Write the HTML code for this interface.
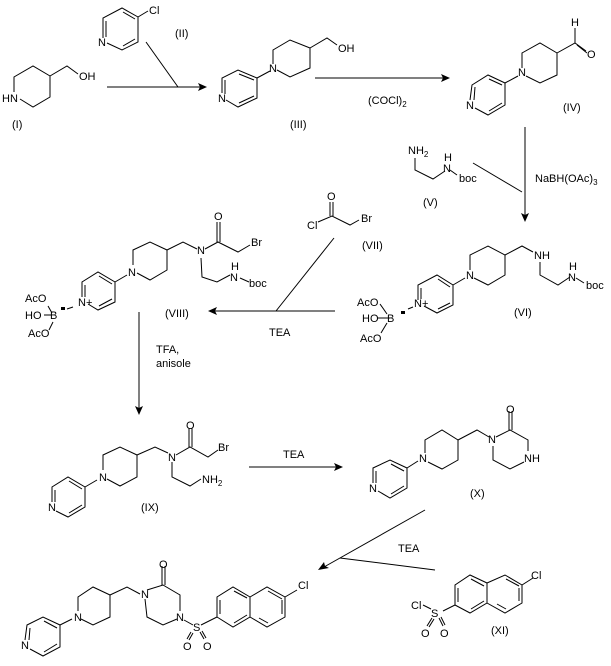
<!DOCTYPE html>
<html><head><meta charset="utf-8"><style>
html,body{margin:0;padding:0;background:#fff;}
svg{display:block;}
text{font-family:"Liberation Sans",sans-serif;font-size:11px;fill:#000;}
.s{font-size:8px;}
</style></head><body>
<svg width="611" height="666" viewBox="0 0 611 666" xmlns="http://www.w3.org/2000/svg">
<g stroke="#000" stroke-width="1" fill="none">
<!-- I -->
<polyline points="14,92 14,77 33,66 50,76 50,97 33,107 20,99"/>
<polyline points="50,76 67,66 78,74"/>
<!-- II -->
<polyline points="103,38 103,18 122,8 138,17 138,42 122,50 107,43"/>
<line x1="106" y1="21" x2="106" y2="37"/><line x1="123" y1="12" x2="135" y2="19"/><line x1="123" y1="46" x2="135" y2="39"/>
<line x1="138" y1="17" x2="148" y2="11"/>
<!-- arrow I->III -->
<line x1="107" y1="87" x2="202" y2="87"/><line x1="146" y1="42" x2="178" y2="87"/>
<!-- III -->
<polyline points="222,93 222,78 238,70 257,78 257,98 238,107 226,100"/>
<line x1="225" y1="80" x2="225" y2="94"/><line x1="239" y1="74" x2="254" y2="80"/><line x1="239" y1="103" x2="254" y2="96"/>
<line x1="257" y1="78" x2="270" y2="71"/>
<polyline points="273,64 273,50 290,40 310,48 310,68 290,77 277,70"/>
<polyline points="310,48 327,38 337,45"/>
<!-- arrow III->IV -->
<line x1="315" y1="78" x2="445" y2="78"/>
<!-- IV -->
<polyline points="470,100 472,85 488,75 505,83 505,105 488,115 475,108"/>
<line x1="475" y1="87" x2="474" y2="100"/><line x1="489" y1="79" x2="502" y2="85"/><line x1="489" y1="111" x2="502" y2="103"/>
<line x1="505" y1="83" x2="518" y2="76"/>
<polyline points="522,68 522,53 540,43 557,53 557,75 540,83 526,76"/>
<polyline points="557,53 575,43 586,51"/><line x1="577" y1="45" x2="587" y2="53"/>
<line x1="575" y1="43" x2="575" y2="28"/>
<!-- arrow IV->VI -->
<line x1="525" y1="127" x2="525" y2="217"/><line x1="473" y1="163" x2="522" y2="192"/>
<!-- V -->
<polyline points="415,158 415,170 433,179 445,171"/>
<line x1="450" y1="170" x2="457" y2="175"/>
<!-- VI -->
<polyline points="418,300 418,285 437,275 453,285 453,305 437,313 424,306"/>
<line x1="421" y1="288" x2="421" y2="299"/><line x1="438" y1="279" x2="450" y2="287"/><line x1="438" y1="309" x2="450" y2="303"/>
<line x1="453" y1="285" x2="465" y2="278"/>
<polyline points="470,270 470,255 488,246 505,255 505,275 488,285 474,278"/>
<polyline points="505,255 522,246 533,252"/>
<polyline points="540,262 540,275 558,285 570,277"/>
<line x1="576" y1="278" x2="584" y2="283"/>
<line x1="380" y1="304" x2="387" y2="314"/><line x1="377" y1="318" x2="390" y2="318"/><line x1="387" y1="323" x2="381" y2="333"/>
<line x1="408" y1="309" x2="413" y2="307"/>
<!-- VII -->
<polyline points="318,222 332,216 350,225 359,220"/>
<line x1="330" y1="216" x2="330" y2="202"/><line x1="333" y1="216" x2="333" y2="202"/>
<!-- arrow VI->VIII -->
<line x1="335" y1="311" x2="214" y2="311"/><line x1="334" y1="238" x2="276" y2="311"/>
<!-- VIII -->
<polyline points="82,297 82,282 98,272 115,282 115,302 98,310 88,304"/>
<line x1="85" y1="285" x2="85" y2="297"/><line x1="99" y1="276" x2="112" y2="284"/><line x1="99" y1="306" x2="112" y2="299"/>
<line x1="115" y1="282" x2="127" y2="275"/>
<polyline points="133,265 133,250 150,242 167,250 167,270 150,280 137,273"/>
<polyline points="167,250 183,242 197,249"/>
<polyline points="205,249 218,242 238,252 250,245"/>
<line x1="217" y1="242" x2="217" y2="222"/><line x1="220" y1="242" x2="220" y2="222"/>
<polyline points="201,258 202,277 217,282 230,275"/>
<line x1="240" y1="278" x2="249" y2="282"/>
<line x1="48" y1="306" x2="52" y2="313"/><line x1="44" y1="315" x2="52" y2="315"/><line x1="53" y1="322" x2="49" y2="330"/>
<line x1="67" y1="309" x2="73" y2="307"/>
<!-- arrow VIII->IX -->
<line x1="139" y1="312" x2="139" y2="408"/>
<!-- IX -->
<polyline points="52,502 52,487 68,477 85,487 85,507 68,517 56,511"/>
<line x1="55" y1="490" x2="55" y2="502"/><line x1="69" y1="481" x2="82" y2="489"/><line x1="69" y1="513" x2="82" y2="505"/>
<line x1="85" y1="487" x2="97" y2="480"/>
<polyline points="103,470 103,455 120,447 137,455 137,477 120,486 107,479"/>
<polyline points="137,455 155,447 168,453"/>
<polyline points="176,455 190,447 208,457 218,450"/>
<line x1="189" y1="447" x2="189" y2="428"/><line x1="192" y1="447" x2="192" y2="428"/>
<polyline points="172,462 172,477 190,486 201,479"/>
<!-- arrow IX->X -->
<line x1="249" y1="467" x2="338" y2="467"/>
<!-- X -->
<polyline points="373,483 373,468 390,460 407,468 407,488 390,498 378,491"/>
<line x1="376" y1="471" x2="376" y2="483"/><line x1="391" y1="464" x2="404" y2="471"/><line x1="391" y1="494" x2="404" y2="486"/>
<line x1="407" y1="468" x2="418" y2="461"/>
<polyline points="425,453 425,440 442,430 458,440 458,460 442,469 428,462"/>
<polyline points="458,440 477,430 489,437"/>
<polyline points="496,437 510,430 528,440 528,451"/>
<line x1="509" y1="430" x2="509" y2="411"/><line x1="512" y1="430" x2="512" y2="411"/>
<polyline points="524,462 510,469 493,460 493,446"/>
<!-- arrow XI->final -->
<line x1="425" y1="510" x2="324" y2="567"/><line x1="340" y1="558" x2="435" y2="570"/>
<!-- XI -->
<polyline points="455,605 455,585 470,575 487,583 487,603 470,613 455,605"/>
<polyline points="487,583 505,575 522,585 522,603 505,613 487,603"/>
<line x1="458" y1="588" x2="458" y2="602"/><line x1="471" y1="579" x2="484" y2="586"/><line x1="471" y1="609" x2="484" y2="601"/>
<line x1="506" y1="579" x2="519" y2="586"/><line x1="519" y1="588" x2="519" y2="601"/><line x1="506" y1="609" x2="497" y2="604"/>
<line x1="522" y1="585" x2="533" y2="578"/>
<line x1="455" y1="605" x2="443" y2="611"/><line x1="423" y1="605" x2="431" y2="609"/>
<line x1="432" y1="618" x2="427" y2="626"/><line x1="434" y1="619" x2="429" y2="627"/>
<line x1="439" y1="618" x2="443" y2="626"/><line x1="441" y1="617" x2="445" y2="625"/>
<!-- final -->
<polyline points="25,640 27,625 43,617 60,625 60,647 43,656 30,649"/>
<line x1="30" y1="628" x2="29" y2="640"/><line x1="44" y1="621" x2="57" y2="628"/><line x1="44" y1="652" x2="57" y2="644"/>
<line x1="60" y1="625" x2="72" y2="619"/>
<polyline points="78,611 78,597 93,587 110,595 110,617 93,625 81,619"/>
<polyline points="110,595 127,587 140,594"/>
<polyline points="147,590 163,585 180,595 180,611"/>
<line x1="162" y1="585" x2="162" y2="566"/><line x1="165" y1="585" x2="165" y2="566"/>
<polyline points="177,619 163,625 147,617 145,599"/>
<line x1="184" y1="620" x2="193" y2="625"/><line x1="201" y1="625" x2="217" y2="617"/>
<line x1="191" y1="632" x2="187" y2="639"/><line x1="193" y1="633" x2="189" y2="640"/>
<line x1="200" y1="632" x2="204" y2="639"/><line x1="202" y1="631" x2="206" y2="638"/>
<polyline points="217,617 217,597 233,587 250,597 250,617 233,627 217,617"/>
<polyline points="250,597 267,587 285,597 285,617 267,627 250,617"/>
<line x1="220" y1="600" x2="220" y2="614"/><line x1="234" y1="591" x2="247" y2="598"/><line x1="234" y1="623" x2="247" y2="615"/>
<line x1="268" y1="591" x2="282" y2="599"/><line x1="282" y1="600" x2="282" y2="614"/><line x1="268" y1="623" x2="259" y2="618"/>
<line x1="285" y1="597" x2="297" y2="590"/>
</g>
<!-- arrowheads -->
<g fill="#000">
<polygon points="207,87 198,83 200,87 198,91"/>
<polygon points="450,78 441,74 443,78 441,82"/>
<polygon points="525,222 521,213 525,215 529,213"/>
<polygon points="208,311 217,307 215,311 217,315"/>
<polygon points="139,415 135,406 139,408 143,406"/>
<polygon points="343,467 334,463 336,467 334,471"/>
<polygon points="318,570 324,562 325,566 329,568"/>
<rect x="401" y="311" width="4" height="3"/><rect x="61" y="307" width="4" height="3"/>
</g>
<!-- text -->
<text x="2" y="102">HN</text><text x="79" y="80">OH</text>
<text x="12" y="128">(I)</text>
<text x="98" y="46">N</text><text x="149" y="14">Cl</text><text x="175" y="37">(II)</text>
<text x="218" y="102">N</text><text x="269" y="72">N</text><text x="338" y="52">OH</text><text x="290" y="128">(III)</text>
<text x="368" y="104">(COCl)<tspan class="s" dy="3">2</tspan></text>
<text x="466" y="109">N</text><text x="518" y="76">N</text><text x="571" y="26">H</text><text x="587" y="58">O</text><text x="563" y="111">(IV)</text>
<text x="408" y="154">NH<tspan class="s" dy="3">2</tspan></text><text x="443" y="172">N</text><text x="444" y="161">H</text><text x="459" y="182">boc</text><text x="423" y="206">(V)</text>
<text x="535" y="182">NaBH(OAc)<tspan class="s" dy="3">3</tspan></text>
<text x="307" y="229">Cl</text><text x="327" y="200">O</text><text x="361" y="222">Br</text><text x="362" y="249">(VII)</text>
<text x="466" y="279">N</text><text x="534" y="259">NH</text><text x="568" y="281">N</text><text x="569" y="270">H</text><text x="586" y="289">boc</text>
<text x="414" y="307">N+</text><text x="357" y="306">AcO</text><text x="362" y="322">HO</text><text x="387" y="322">B</text><text x="360" y="342">AcO</text>
<text x="514" y="316">(VI)</text>
<text x="269" y="336">TEA</text>
<text x="128" y="276">N</text><text x="197" y="254">N</text><text x="214" y="220">O</text><text x="251" y="246">Br</text>
<text x="230" y="281">N</text><text x="231" y="270">H</text><text x="249" y="287">boc</text>
<text x="78" y="306">N+</text><text x="25" y="302">AcO</text><text x="25" y="319">HO</text><text x="50" y="319">B</text><text x="28" y="337">AcO</text>
<text x="165" y="317">(VIII)</text>
<text x="156" y="353">TFA,</text><text x="156" y="367">anisole</text>
<text x="48" y="511">N</text><text x="99" y="481">N</text><text x="168" y="461">N</text><text x="186" y="429">O</text><text x="218" y="451">Br</text>
<text x="202" y="483">NH<tspan class="s" dy="3">2</tspan></text><text x="141" y="511">(IX)</text>
<text x="283" y="458">TEA</text>
<text x="369" y="492">N</text><text x="419" y="462">N</text><text x="488" y="443">N</text><text x="506" y="413">O</text><text x="524" y="462">NH</text><text x="470" y="497">(X)</text>
<text x="398" y="552">TEA</text>
<text x="531" y="579">Cl</text><text x="411" y="609">Cl</text><text x="431" y="617">S</text><text x="421" y="637">O</text><text x="440" y="637">O</text><text x="491" y="634">(XI)</text>
<text x="21" y="649">N</text><text x="74" y="621">N</text><text x="141" y="598">N</text><text x="159" y="568">O</text><text x="176" y="621">N</text>
<text x="193" y="631">S</text><text x="183" y="650">O</text><text x="203" y="650">O</text><text x="298" y="589">Cl</text>
</svg>
</body></html>
